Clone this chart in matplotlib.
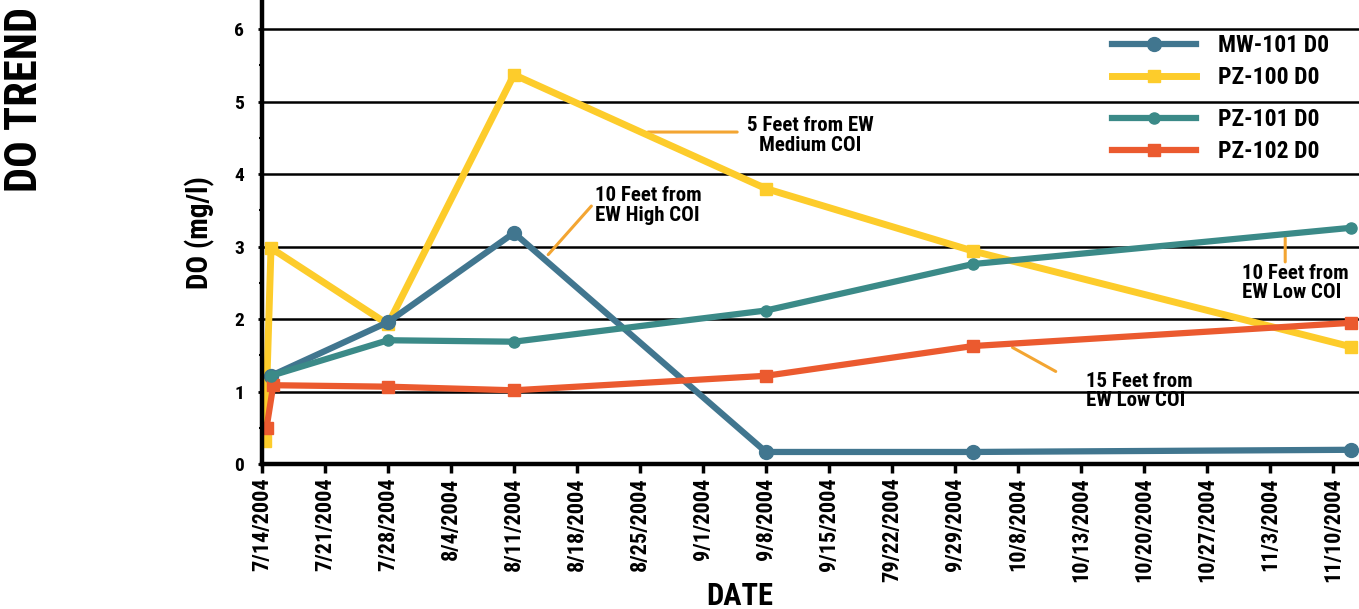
import matplotlib
matplotlib.use("Agg")
import matplotlib.pyplot as plt
import matplotlib.dates as mdates
import numpy as np
from datetime import datetime, timedelta

plt.rcParams['font.family'] = ['Roboto Condensed', 'Saira Condensed', 'DejaVu Sans']
plt.rcParams['font.weight'] = 'bold'

# datos
mw101_dates = ["2004-07-15", "2004-07-28", "2004-08-11", "2004-09-08", "2004-10-01", "2004-11-12"]
mw101_do = [1.22, 1.96, 3.19, 0.17, 0.17, 0.20]

pz100_dates = ["2004-07-14 08:00", "2004-07-15", "2004-07-28", "2004-08-11", "2004-09-08", "2004-10-01", "2004-11-12"]
pz100_do = [0.32, 2.98, 1.93, 5.37, 3.80, 2.94, 1.62]

pz101_dates = ["2004-07-15", "2004-07-28", "2004-08-11", "2004-09-08", "2004-10-01", "2004-11-12"]
pz101_do = [1.22, 1.71, 1.69, 2.12, 2.76, 3.26]

pz102_dates = ["2004-07-14 12:00", "2004-07-15 06:00", "2004-07-28", "2004-08-11", "2004-09-08", "2004-10-01", "2004-11-12"]
pz102_do = [0.50, 1.09, 1.07, 1.02, 1.22, 1.63, 1.95]

tick_labels = ["7/14/2004", "7/21/2004", "7/28/2004", "8/4/2004", "8/11/2004", "8/18/2004",
               "8/25/2004", "9/1/2004", "9/8/2004", "9/15/2004", "79/22/2004", "9/29/2004",
               "10/8/2004", "10/13/2004", "10/20/2004", "10/27/2004", "11/3/2004", "11/10/2004"]

c_mw101 = '#41768F'
c_pz100 = '#FDCC2B'
c_pz101 = '#3B8A88'
c_pz102 = '#EB5A2F'
c_note = '#F3A532'


def to_dt(lista):
    out = []
    for s in lista:
        if len(s) > 10:
            out.append(datetime.strptime(s, "%Y-%m-%d %H:%M"))
        else:
            out.append(datetime.strptime(s, "%Y-%m-%d"))
    return out


start = datetime(2004, 7, 14)


def dia(d):
    # posicao em dias a partir de 7/14
    return mdates.date2num(start + timedelta(days=d))


fig = plt.figure(figsize=(13.59, 6.09), dpi=100)
ax = fig.add_axes([0.1928, 0.2376, 0.8072, 0.7624])

l1, = ax.plot(to_dt(mw101_dates), mw101_do, color=c_mw101, lw=4.5, marker='o', ms=10, label='MW-101 D0', zorder=4)
l2, = ax.plot(to_dt(pz100_dates), pz100_do, color=c_pz100, lw=5.0, marker='s', ms=9, label='PZ-100 D0', zorder=3)
l3, = ax.plot(to_dt(pz101_dates), pz101_do, color=c_pz101, lw=4.5, marker='o', ms=8, label='PZ-101 D0', zorder=5)
l4, = ax.plot(to_dt(pz102_dates), pz102_do, color=c_pz102, lw=4.5, marker='s', ms=9, label='PZ-102 D0', zorder=4)

ax.set_xlim(dia(0), dia(121.9))
ax.set_ylim(0, 6.40)

ticks = [start + timedelta(days=7 * i) for i in range(len(tick_labels))]
ax.set_xticks(ticks)
ax.set_xticklabels(tick_labels, rotation=90, fontsize=16, fontweight='bold')
ax.set_yticks(range(0, 7))
ax.set_yticklabels([str(i) for i in range(0, 7)], fontsize=14, fontweight='bold')
ax.set_yticks(np.arange(0.5, 6.5, 1.0), minor=True)

ax.tick_params(axis='x', length=6.5, width=2.5, pad=3, direction='out')
ax.tick_params(axis='y', which='major', length=3, width=2, pad=10)
ax.tick_params(axis='y', which='minor', length=2, width=1.5)

ax.grid(axis='y', color='black', lw=1.8, zorder=1)
ax.set_axisbelow(True)
for s in ['top', 'right']:
    ax.spines[s].set_visible(False)
for s in ['left', 'bottom']:
    ax.spines[s].set_linewidth(3.2)
    ax.spines[s].set_zorder(6)

# notas
notas = [
    ("5 Feet from EW\nMedium COI", (42.9, 4.58), (52.8, 4.58), (60.9, 4.53), 'center'),
    ("10 Feet from\nEW High COI", (31.8, 2.89), (36.6, 3.56), (37.0, 3.57), 'left'),
    ("10 Feet from\nEW Low COI", (113.7, 3.12), (113.7, 2.79), (108.9, 2.50), 'left'),
    ("15 Feet from\nEW Low COI", (83.4, 1.61), (88.2, 1.28), (91.6, 1.01), 'left'),
]
for txt, p0, p1, pt, al in notas:
    ax.annotate('', xy=(dia(p0[0]), p0[1]), xytext=(dia(p1[0]), p1[1]),
                arrowprops=dict(arrowstyle='-', color=c_note, lw=2.2, shrinkA=0, shrinkB=0), zorder=2)
    ax.text(dia(pt[0]), pt[1], txt, ha=al, va='center', multialignment=al,
            fontsize=15, fontweight='bold', linespacing=1.05, zorder=7)

leg_kw = dict(loc='center left', bbox_transform=fig.transFigure, frameon=False,
              borderpad=0, borderaxespad=0, handlelength=3.56, handletextpad=0.93,
              labelspacing=0.38, prop={'size': 17, 'weight': 'bold'})
leg1 = fig.legend([l1, l2], ['MW-101 D0', 'PZ-100 D0'], bbox_to_anchor=(0.818, 0.899), **leg_kw)
leg2 = fig.legend([l3, l4], ['PZ-101 D0', 'PZ-102 D0'], bbox_to_anchor=(0.818, 0.777), **leg_kw)

ax.set_ylabel('DO (mg/l)', fontsize=21, fontweight='bold', labelpad=14)
fig.text(740 / 1359, 1 - 596 / 609, 'DATE', ha='center', va='center', fontsize=22, fontweight='bold')
fig.text(25 / 1359, 1 - 99 / 609, 'DO TREND', ha='center', va='center', rotation=90,
         fontsize=32, fontweight='bold')

fig.savefig('out.png', dpi=100)
